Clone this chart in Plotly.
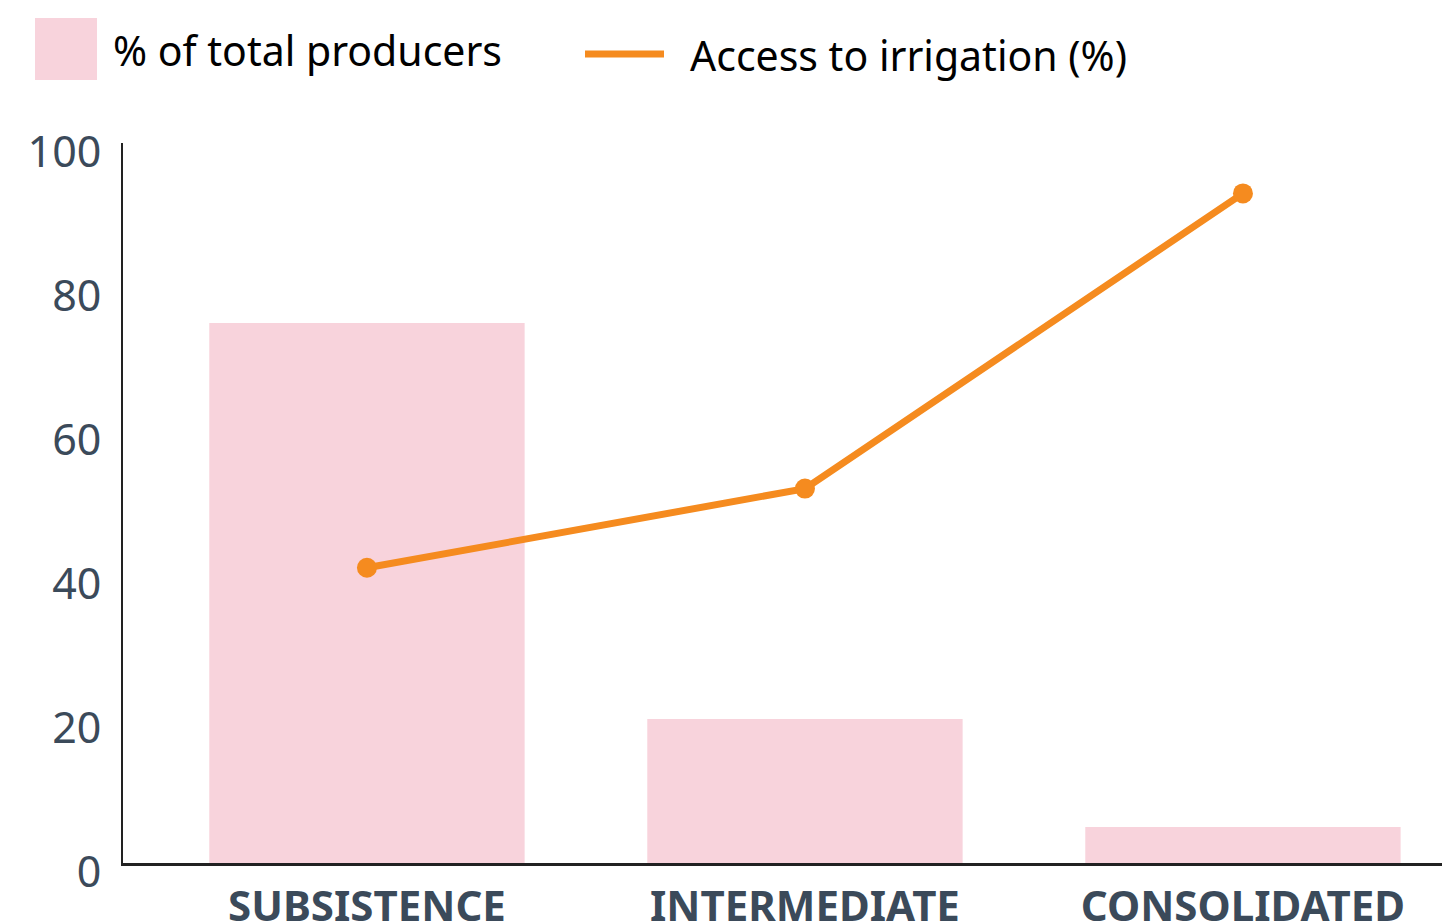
import plotly.graph_objects as go

categories = ["SUBSISTENCE", "INTERMEDIATE", "CONSOLIDATED"]
producers_pct = [75, 20, 5]
irrigation_pct = [41, 52, 93]
bar_name = "% of total producers"
line_name = "Access to irrigation (%)"
y_ticks = [0, 20, 40, 60, 80, 100]

PINK = "#f8d3dc"
ORANGE = "#f58b1f"
TICK = "#3b4a5a"
FONT = "Noto Sans"

W, H = 1450, 924
OFF = 8  # page body margin
ML, MR, MT, MB = 115, 0, 135, 69
PW, PH = W - ML - MR, H - MT - MB

def px(x):  # window x -> paper
    return (x - OFF - ML) / PW

def py(y):  # window y -> paper
    return (H - MB - (y - OFF)) / PH

fig = go.Figure()
fig.add_trace(go.Bar(x=categories, y=producers_pct, name=bar_name,
                     marker=dict(color=PINK, line=dict(width=0)), width=0.72,
                     showlegend=False))
fig.add_trace(go.Scatter(x=categories, y=irrigation_pct, name=line_name,
                         mode="lines+markers",
                         line=dict(color=ORANGE, width=7),
                         marker=dict(color=ORANGE, size=20),
                         showlegend=False))

# manual legend
fig.add_shape(type="rect", xref="paper", yref="paper",
              x0=px(35), x1=px(97), y0=py(80), y1=py(18),
              fillcolor=PINK, line=dict(width=0))
fig.add_annotation(xref="paper", yref="paper", x=px(111), y=py(50),
                   text=bar_name, showarrow=False, xanchor="left", yanchor="middle",
                   font=dict(family=FONT, size=41, color="#000000"))
fig.add_shape(type="line", xref="paper", yref="paper",
              x0=px(585), x1=px(664), y0=py(54), y1=py(54),
              line=dict(color=ORANGE, width=7))
fig.add_annotation(xref="paper", yref="paper", x=px(688), y=py(55),
                   text=line_name, showarrow=False, xanchor="left", yanchor="middle",
                   font=dict(family=FONT, size=41, color="#000000"))

fig.update_layout(
    width=W, height=H,
    margin=dict(l=ML, r=MR, t=MT, b=MB),
    plot_bgcolor="white", paper_bgcolor="white",
    font=dict(family=FONT),
    xaxis=dict(range=[-0.557, 2.491], showgrid=False, showline=True,
               linecolor="#222222", linewidth=3, ticks="",
               tickfont=dict(family=FONT, size=42, color=TICK, weight="bold"),
               ticklabelstandoff=5,
               fixedrange=True),
    yaxis=dict(range=[0, 100], tickvals=y_ticks, showgrid=False, showline=True,
               linecolor="#222222", linewidth=2, ticks="", zeroline=False,
               tickfont=dict(family=FONT, size=43, color=TICK),
               ticklabelshift=9, ticklabelstandoff=11,
               fixedrange=True),
)

fig.write_html("out.html")
